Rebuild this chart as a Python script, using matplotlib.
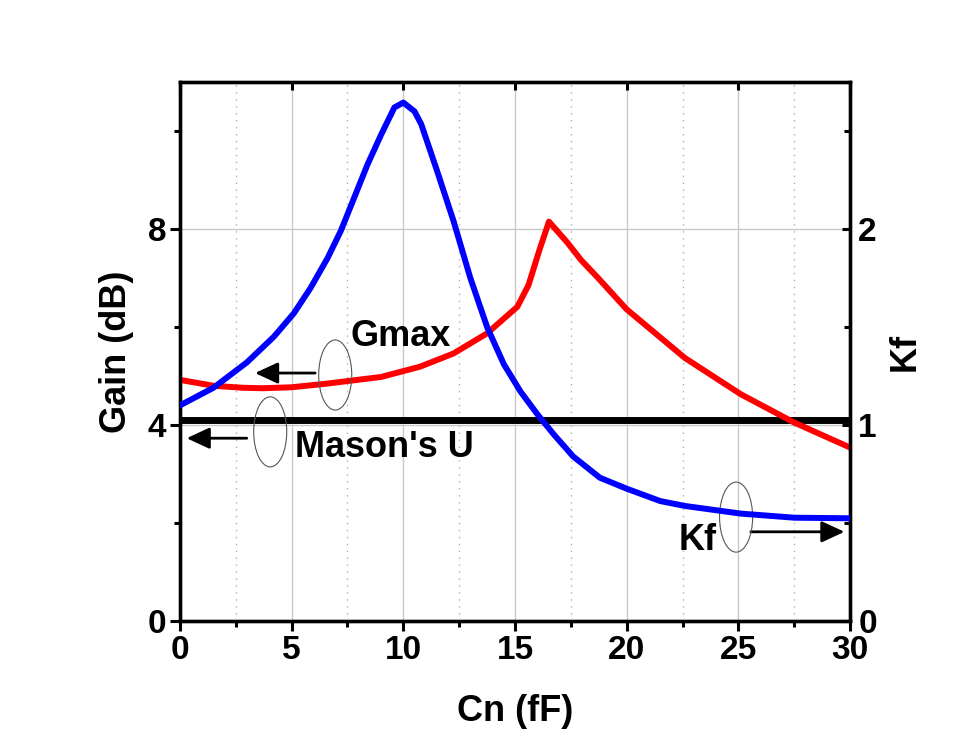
import matplotlib
matplotlib.use("Agg")
import matplotlib.pyplot as plt
from matplotlib.patches import Ellipse
from matplotlib.ticker import MultipleLocator

plt.rcParams['font.family'] = ['Liberation Sans', 'DejaVu Sans']
plt.rcParams['font.weight'] = 'bold'

# Gmax (left axis, dB)
cn_gmax = [0, 1.5, 2.8, 3.7, 5.0, 6.5, 9.0, 10.75, 12.25, 13.75, 15.1,
           15.6, 16.1, 16.52, 17.35, 17.95, 18.7, 20.0, 22.6, 25.1, 27.5, 30]
gmax = [4.92, 4.80, 4.76, 4.75, 4.77, 4.84, 4.98, 5.19, 5.46, 5.87, 6.41,
        6.85, 7.58, 8.15, 7.72, 7.37, 7.01, 6.36, 5.37, 4.63, 4.05, 3.54]

# Kf (right axis)
cn_kf = [0, 1.5, 3.0, 4.2, 5.1, 5.85, 6.6, 7.2, 7.8, 8.4, 9.0, 9.6, 10.0,
         10.5, 10.8, 11.5, 12.25, 13.0, 13.75, 14.5, 15.25, 16.0, 16.75,
         17.6, 18.8, 20.0, 21.5, 22.6, 25.1, 27.5, 30]
kf = [1.10, 1.19, 1.32, 1.45, 1.57, 1.70, 1.85, 1.99, 2.16, 2.33, 2.48, 2.62,
      2.645, 2.60, 2.535, 2.30, 2.04, 1.75, 1.50, 1.31, 1.17, 1.055, 0.95,
      0.84, 0.731, 0.675, 0.612, 0.587, 0.548, 0.527, 0.524]

# Mason's U (flat, dB)
cn_u = [0, 30]
mason_u = [4.1, 4.1]

fig = plt.figure(figsize=(9.74, 7.48), dpi=100)
ax = fig.add_axes([0.1848, 0.1698, 0.6879, 0.7206])
ax2 = ax.twinx()

# grid
ax.set_axisbelow(True)
ax.xaxis.set_major_locator(MultipleLocator(5))
ax.xaxis.set_minor_locator(MultipleLocator(2.5))
ax.yaxis.set_major_locator(MultipleLocator(4))
ax.yaxis.set_minor_locator(MultipleLocator(2))
ax.grid(which='major', color='#c8c8c8', lw=1.0, ls='-')
ax.grid(which='minor', axis='x', color='#b0b0b0', lw=1.0, ls=(0, (1, 4)))

ax.plot(cn_u, mason_u, color='black', lw=5, zorder=3)
ax.plot(cn_gmax, gmax, color='#ff0000', lw=4.3, zorder=4)
ax2.plot(cn_kf, kf, color='#0000ff', lw=4.3, zorder=4)

ax.set_xlim(0, 30)
ax.set_ylim(0, 11)
ax2.set_ylim(0, 2.75)

ax.set_xticks([0, 5, 10, 15, 20, 25, 30])
ax.set_yticks([0, 4, 8])
ax2.yaxis.set_major_locator(MultipleLocator(1))
ax2.yaxis.set_minor_locator(MultipleLocator(0.5))

for a in (ax, ax2):
    for s in a.spines.values():
        s.set_linewidth(2.4)

ax.tick_params(axis='both', which='major', direction='out', length=7, width=2.2,
               labelsize=24, top=False, right=False, pad=3)
ax.tick_params(axis='both', which='minor', direction='out', length=4, width=2.2,
               top=False, right=False)
ax2.tick_params(axis='y', which='major', direction='in', length=6, width=2.2,
                labelsize=24, pad=6)
ax2.tick_params(axis='y', which='minor', direction='in', length=4, width=2.2)

# top ticks pointing inward (major only)
ax2.xaxis.set_visible(True)
ax2.tick_params(axis='x', which='major', direction='in', top=True, bottom=False,
                labeltop=False, labelbottom=False, length=6, width=2.2)
ax2.tick_params(axis='x', which='minor', top=False, bottom=False)

for lab in ax.get_xticklabels() + ax.get_yticklabels() + ax2.get_yticklabels():
    lab.set_fontweight('bold')

ax.set_xlabel('Cn (fF)', fontsize=26, fontweight='bold', labelpad=20)
ax.set_ylabel('Gain (dB)', fontsize=26, fontweight='bold', labelpad=10)
ax2.set_ylabel('Kf', fontsize=26, fontweight='bold', labelpad=8)

# annotations
ax.text(7.62, 5.80, 'Gmax', fontsize=26, fontweight='bold', va='center', ha='left', zorder=6)
ax.text(5.16, 3.55, "Mason's U", fontsize=26, fontweight='bold', va='center', ha='left', zorder=6)
ax.text(22.33, 1.65, 'Kf', fontsize=26, fontweight='bold', va='center', ha='left', zorder=6)

arrow = dict(arrowstyle='-|>,head_length=1.4,head_width=0.65', color='black', lw=2,
             shrinkA=0, shrinkB=0)
ax.annotate('', xy=(3.36, 5.06), xytext=(6.05, 5.06), arrowprops=arrow, zorder=6)
ax.annotate('', xy=(0.30, 3.73), xytext=(2.99, 3.73), arrowprops=arrow, zorder=6)
ax.annotate('', xy=(29.75, 1.82), xytext=(25.56, 1.82), arrowprops=arrow, zorder=6)

for (ex, ey) in [(6.95, 5.02), (4.04, 3.86), (24.9, 2.12)]:
    ax.add_patch(Ellipse((ex, ey), 1.48, 1.43, fill=False, edgecolor='#555555',
                         lw=0.8, zorder=6))

fig.savefig('out.png', dpi=100)
